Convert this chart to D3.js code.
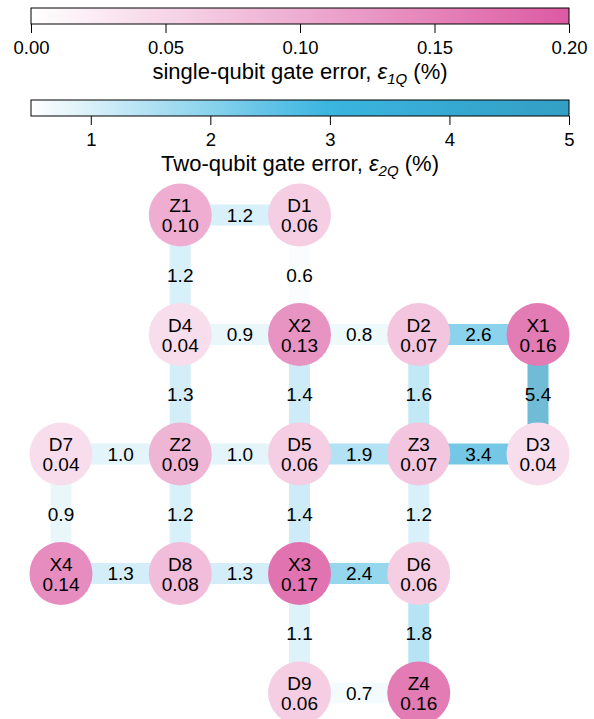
<!DOCTYPE html>
<html>
<head>
<meta charset="utf-8">
<script src="https://cdn.jsdelivr.net/npm/d3@7"></script>
<style>
  body { margin: 0; background: #fff; }
  text { font-family: "Liberation Sans", Arial, sans-serif; fill: #000; }
</style>
</head>
<body>
<div id="chart"></div>
<script>
// qubit layout (grid column, grid row) and single-qubit errors (%)
var qubitNames = ["Z1", "D1", "D4", "X2", "D2", "X1", "D7", "Z2", "D5", "Z3", "D3", "X4", "D8", "X3", "D6", "D9", "Z4"];
var qubitCols  = [1, 2, 1, 2, 3, 4, 0, 1, 2, 3, 4, 0, 1, 2, 3, 2, 3];
var qubitRows  = [0, 0, 1, 1, 1, 1, 2, 2, 2, 2, 2, 3, 3, 3, 3, 4, 4];
var qubitErr   = [0.10, 0.06, 0.04, 0.13, 0.07, 0.16, 0.04, 0.09, 0.06, 0.07, 0.04, 0.14, 0.08, 0.17, 0.06, 0.06, 0.16];

// couplers and two-qubit errors (%)
var edgeFrom = ["Z1", "Z1", "D1", "D4", "X2", "D2", "X1", "D4", "X2", "D2", "D7", "Z2", "D5", "Z3", "D7", "Z2", "D5", "Z3", "X4", "D8", "X3", "X3", "D6", "D9"];
var edgeTo   = ["D1", "D4", "X2", "X2", "D2", "X1", "D3", "Z2", "D5", "Z3", "Z2", "D5", "Z3", "D3", "X4", "D8", "X3", "D6", "D8", "X3", "D6", "D9", "Z4", "Z4"];
var edgeErr  = [1.2, 1.2, 0.6, 0.9, 0.8, 2.6, 5.4, 1.3, 1.4, 1.6, 1.0, 1.0, 1.9, 3.4, 0.9, 1.2, 1.4, 1.2, 1.3, 1.3, 2.4, 1.1, 1.8, 0.7];

var ticks1Q = [0.00, 0.05, 0.10, 0.15, 0.20];
var ticks2Q = [1, 2, 3, 4, 5];

var width = 594, height = 719;

var svg = d3.select("#chart")
    .append("svg")
    .attr("width", width)
    .attr("height", height);

var color1Q = d3.scaleLinear()
    .domain([0, 0.20])
    .range(["#ffffff", "#dc5aa2"]);

var color2Q = d3.scaleLinear()
    .domain([0.5, 3, 5])
    .range(["#ffffff", "#3ab4e0", "#339fc4"])
    .clamp(true);

// ---- colorbars ----
function colorbar(id, scale, domain, ticks, fmt, y0, label, sub) {
    var x = d3.scaleLinear().domain(domain).range([31, 569]);
    var grad = svg.append("defs").append("linearGradient")
        .attr("id", id)
        .attr("x1", "0%").attr("x2", "100%");
    d3.range(0, 1.0001, 0.05).forEach(function(t) {
        grad.append("stop")
            .attr("offset", (t * 100) + "%")
            .attr("stop-color", scale(domain[0] + t * (domain[1] - domain[0])));
    });

    var g = svg.append("g");
    g.append("rect")
        .attr("x", 31).attr("y", y0)
        .attr("width", 538).attr("height", 16)
        .attr("fill", "url(#" + id + ")")
        .attr("stroke", "#000")
        .attr("stroke-width", 1);

    var axis = g.append("g")
        .attr("transform", "translate(0," + (y0 + 16) + ")")
        .call(d3.axisBottom(x).tickValues(ticks).tickFormat(fmt).tickSizeOuter(0).tickSize(9).tickPadding(8));
    axis.select(".domain").remove();
    axis.selectAll("line").attr("stroke", "#000");
    axis.selectAll("text")
        .style("font-size", "18.5px")
        .style("font-family", "'Liberation Sans', Arial, sans-serif");

    var t = g.append("text")
        .attr("x", 300)
        .attr("y", y0 + 71)
        .attr("text-anchor", "middle")
        .style("font-size", "22px");
    t.append("tspan").text(label + ", ");
    t.append("tspan").style("font-style", "italic").text("ε");
    t.append("tspan").style("font-style", "italic").style("font-size", "15px").attr("dy", 5).text(sub);
    t.append("tspan").attr("dy", -5).text(" (%)");
}

colorbar("cb1", color1Q, [0, 0.20], ticks1Q, d3.format(".2f"), 8, "single-qubit gate error", "1Q");
colorbar("cb2", color2Q, [0.5, 5], ticks2Q, d3.format("d"), 100, "Two-qubit gate error", "2Q");

// ---- qubit grid ----
var xGrid = d3.scaleLinear().domain([0, 4]).range([61, 538]);
var yGrid = d3.scaleLinear().domain([0, 4]).range([215, 693]);

var qubits = qubitNames.map(function(n, i) {
    return { name: n, col: qubitCols[i], row: qubitRows[i], err: qubitErr[i] };
});
var byName = {};
qubits.forEach(function(q) { byName[q.name] = q; });

var edges = edgeFrom.map(function(f, i) {
    return { a: byName[f], b: byName[edgeTo[i]], err: edgeErr[i] };
});

var edgeG = svg.append("g");
edgeG.selectAll("line")
    .data(edges)
    .enter()
    .append("line")
    .attr("x1", function(d) { return xGrid(d.a.col); })
    .attr("y1", function(d) { return yGrid(d.a.row); })
    .attr("x2", function(d) { return xGrid(d.b.col); })
    .attr("y2", function(d) { return yGrid(d.b.row); })
    .attr("stroke", function(d) { return color2Q(d.err); })
    .attr("stroke-opacity", 0.7)
    .attr("stroke-width", 21);

edgeG.selectAll("text")
    .data(edges)
    .enter()
    .append("text")
    .attr("x", function(d) { return (xGrid(d.a.col) + xGrid(d.b.col)) / 2; })
    .attr("y", function(d) { return (yGrid(d.a.row) + yGrid(d.b.row)) / 2; })
    .attr("dy", "0.36em")
    .attr("text-anchor", "middle")
    .style("font-size", "19px")
    .text(function(d) { return d3.format(".1f")(d.err); });

var node = svg.selectAll(".qubit")
    .data(qubits)
    .enter()
    .append("g")
    .attr("class", "qubit")
    .attr("transform", function(d) { return "translate(" + xGrid(d.col) + "," + yGrid(d.row) + ")"; });

node.append("circle")
    .attr("r", 31.5)
    .attr("fill", function(d) { return color1Q(d.err); });

node.append("text")
    .attr("y", -3)
    .attr("text-anchor", "middle")
    .style("font-size", "19px")
    .text(function(d) { return d.name; });

node.append("text")
    .attr("y", 17)
    .attr("text-anchor", "middle")
    .style("font-size", "19px")
    .text(function(d) { return d3.format(".2f")(d.err); });
</script>
</body>
</html>
